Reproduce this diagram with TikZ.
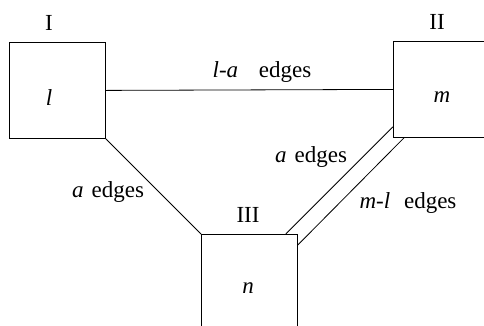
\documentclass[tikz,border=0pt]{standalone}
\usepackage{fontspec}
\setmainfont{Liberation Serif}
\usetikzlibrary{calc}
\begin{document}
\begin{tikzpicture}[x=1pt,y=-1pt,
  region/.style={draw,line width=0.8pt,rectangle,minimum width=96pt,minimum height=96pt,inner sep=0pt,anchor=north west},
  txt/.style={inner sep=0pt,font=\fontsize{23}{27}\selectfont},
  conn/.style={line width=0.8pt}]
\useasboundingbox (0,0) rectangle (484,325);
\clip (0,0) rectangle (484,325);
\node[region] (I) at (9,42) {};
\node[region] (II) at (393,41) {};
\node[region] (III) at (201,234) {};
\node[txt] (tI) at (49,23) {I};
\node[txt] (tII) at (437,22) {II};
\node[txt] (tIII) at (248,215) {III};
\node[txt] (l) at (49,98) {\textit{l}};
\node[txt] (m) at (442,97) {\textit{m}};
\node[txt] (n) at (248,288) {\textit{n}};
\draw[conn] (I.east) -- (II.west);
\draw[conn] (I.south east) -- (III.north west);
\draw[conn] ([yshift=11pt]II.south west) -- ([xshift=-12pt]III.north east);
\draw[conn] ([xshift=11pt]II.south west) -- ([yshift=-11pt]III.north east);
\node[txt] (la) at (262,72) {\textit{l-a}\hspace{0.9em}edges};
\node[txt] (a1) at (108,192) {\textit{a}\hspace{0.35em}edges};
\node[txt] (a2) at (311,157) {\textit{a}\hspace{0.35em}edges};
\node[txt] (ml) at (408,203) {\textit{m-l}\hspace{0.6em}edges};
\end{tikzpicture}
\end{document}
